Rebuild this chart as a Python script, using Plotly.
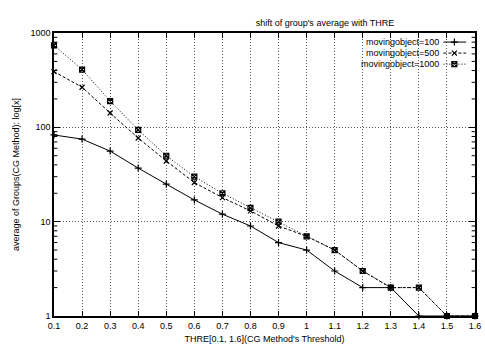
import plotly.graph_objects as go

thre = [0.1, 0.2, 0.3, 0.4, 0.5, 0.6, 0.7, 0.8, 0.9, 1.0, 1.1, 1.2, 1.3, 1.4, 1.5, 1.6]
mo100 = [83, 75, 56, 37, 25, 17, 12, 9, 6, 5, 3, 2, 2, 1, 1, 1]
mo500 = [390, 266, 142, 77, 44, 26, 18, 13, 9, 7, 5, 3, 2, 2, 1, 1]
mo1000 = [740, 410, 190, 94, 50, 30, 20, 14, 10, 7, 5, 3, 2, 2, 1, 1]
series_names = ["movingobject=100", "movingobject=500", "movingobject=1000"]
xticks = [0.1, 0.2, 0.3, 0.4, 0.5, 0.6, 0.7, 0.8, 0.9, 1.0, 1.1, 1.2, 1.3, 1.4, 1.5, 1.6]
xticklabels = ["0.1", "0.2", "0.3", "0.4", "0.5", "0.6", "0.7", "0.8", "0.9", "1", "1.1", "1.2", "1.3", "1.4", "1.5", "1.6"]
yticks = [1, 10, 100, 1000]
yticklabels = ["1", "10", "100", "1000"]
minor_y = [m * d for d in (1, 10, 100) for m in range(2, 10)]

FONT = "Liberation Sans, Arial, sans-serif"
FS = 9
GRID = "1px,2px"
fig = go.Figure()

styles = [("solid", "cross-thin-open"), ("3px,2px", "x-thin-open"), ("1px,2px", "square-x-open")]
for name, vals, (dash, sym) in zip(series_names, [mo100, mo500, mo1000], styles):
    fig.add_trace(go.Scatter(
        x=thre, y=vals, name=name, mode="lines+markers",
        line=dict(color="black", width=1, dash=dash),
        marker=dict(symbol=sym, size=5, color="black", line=dict(color="black", width=1.2)),
        cliponaxis=False, showlegend=False,
    ))

# custom legend (text right-aligned left of the sample, gnuplot style)
leg_y = [0.968, 0.929, 0.890]
for name, (dash, sym), ly in zip(series_names, styles, leg_y):
    fig.add_annotation(xref="paper", yref="paper", x=0.916, y=ly, text=name, showarrow=False,
                       xanchor="right", yanchor="middle", font=dict(size=FS), borderpad=0)
    fig.add_shape(type="line", xref="paper", yref="paper", x0=0.925, x1=0.979, y0=ly, y1=ly,
                  line=dict(color="black", width=1, dash=dash))
    fig.add_trace(go.Scatter(x=[0.951], y=[ly], xaxis="x2", yaxis="y2", mode="markers",
                             marker=dict(symbol=sym, size=5, color="black",
                                         line=dict(color="black", width=1.2)),
                             showlegend=False, hoverinfo="skip", cliponaxis=False))

# minor ticks on left and right (inward)
for yv in minor_y:
    for xv, x1 in ((0, 0.008), (1, 0.992)):
        fig.add_shape(type="line", xref="paper", yref="y", x0=xv, x1=x1, y0=yv, y1=yv,
                      line=dict(color="black", width=1))

fig.update_layout(
    width=485, height=347,
    margin=dict(l=54, r=4, t=33, b=28),
    plot_bgcolor="white", paper_bgcolor="white",
    font=dict(family=FONT, size=FS, color="black"),
    showlegend=False,
    xaxis=dict(range=[0.1, 1.6], tickvals=xticks, ticktext=xticklabels,
               showgrid=True, gridcolor="#555", griddash=GRID, gridwidth=1,
               showline=True, linecolor="black", linewidth=1.5, mirror="ticks",
               ticks="inside", ticklen=5, tickcolor="black", zeroline=False,
               tickfont=dict(size=FS), ticklabeloverflow="allow",
               title=dict(text="THRE[0.1, 1.6](CG Method's Threshold)", standoff=6,
                          font=dict(size=FS))),
    yaxis=dict(type="log", range=[0, 3], tickvals=yticks, ticktext=yticklabels,
               showgrid=True, gridcolor="#555", griddash=GRID, gridwidth=1,
               showline=True, linecolor="black", linewidth=1.5, mirror="ticks",
               ticks="inside", ticklen=6, tickcolor="black", zeroline=False,
               tickfont=dict(size=FS),
               title=dict(text="average of Groups(CG Method): log[x]", standoff=9,
                          font=dict(size=FS))),
    xaxis2=dict(overlaying="x", range=[0, 1], visible=False),
    yaxis2=dict(overlaying="y", range=[0, 1], visible=False),
    title=dict(text="shift of group's average with THRE", x=0.67, xanchor="center",
               y=0.935, yanchor="middle", font=dict(size=FS)),
)

fig.write_html("out.html", config={"displayModeBar": False},
               post_script="document.body.style.margin='0';document.body.style.overflow='hidden';")
